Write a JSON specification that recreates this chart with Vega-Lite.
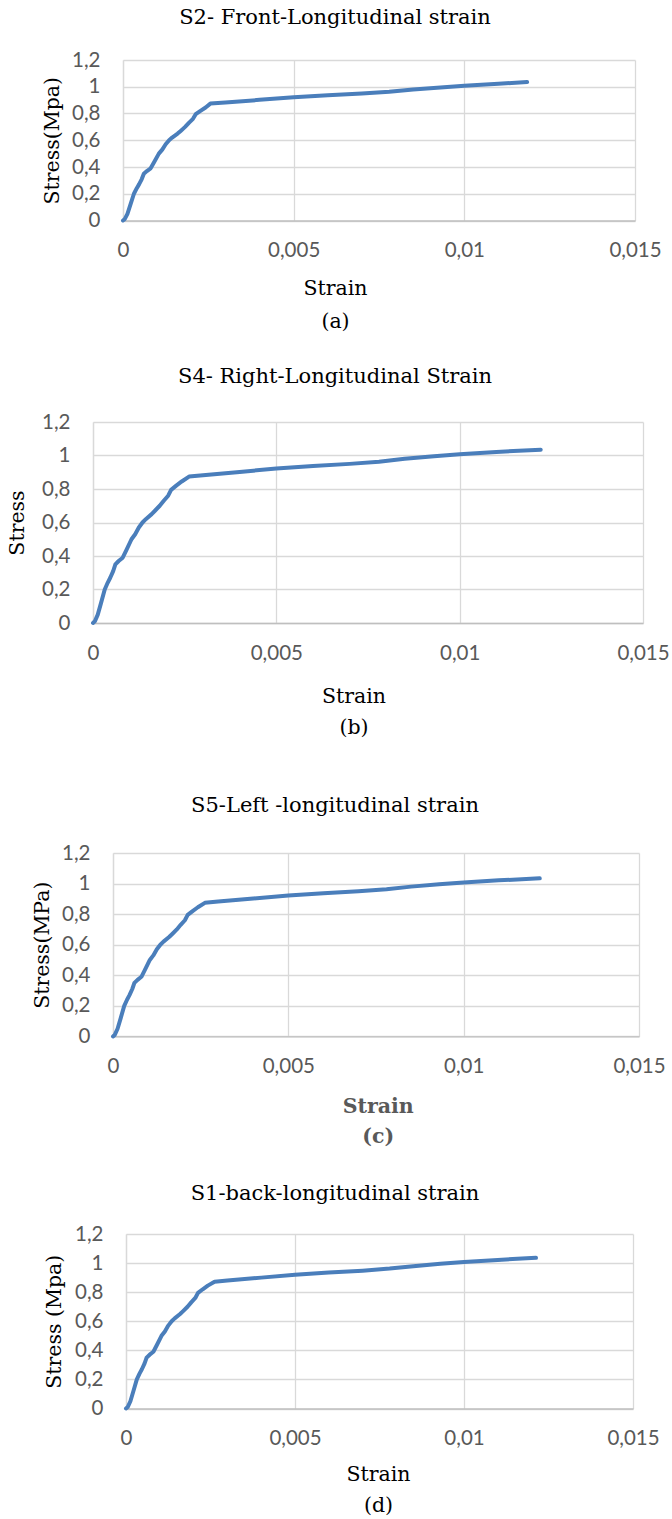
{
  "$schema": "https://vega.github.io/schema/vega-lite/v6.json",
  "padding": {"left": 7, "top": 7, "right": 0, "bottom": 0},
  "background": "white",
  "data": {"values": [
    {"panel": "a", "strain": 0, "stress": 0},
    {"panel": "a", "strain": 0.00005, "stress": 0.01},
    {"panel": "a", "strain": 0.00013, "stress": 0.05},
    {"panel": "a", "strain": 0.00022, "stress": 0.12},
    {"panel": "a", "strain": 0.00032, "stress": 0.2},
    {"panel": "a", "strain": 0.0004, "stress": 0.24},
    {"panel": "a", "strain": 0.00047, "stress": 0.27},
    {"panel": "a", "strain": 0.00055, "stress": 0.31},
    {"panel": "a", "strain": 0.00061, "stress": 0.35},
    {"panel": "a", "strain": 0.0007, "stress": 0.37},
    {"panel": "a", "strain": 0.00081, "stress": 0.39},
    {"panel": "a", "strain": 0.00091, "stress": 0.435},
    {"panel": "a", "strain": 0.00105, "stress": 0.5},
    {"panel": "a", "strain": 0.00115, "stress": 0.53},
    {"panel": "a", "strain": 0.00125, "stress": 0.57},
    {"panel": "a", "strain": 0.00135, "stress": 0.6},
    {"panel": "a", "strain": 0.00144, "stress": 0.62},
    {"panel": "a", "strain": 0.0016, "stress": 0.65},
    {"panel": "a", "strain": 0.00169, "stress": 0.67},
    {"panel": "a", "strain": 0.00182, "stress": 0.7},
    {"panel": "a", "strain": 0.00193, "stress": 0.73},
    {"panel": "a", "strain": 0.00205, "stress": 0.76},
    {"panel": "a", "strain": 0.00213, "stress": 0.795},
    {"panel": "a", "strain": 0.00227, "stress": 0.82},
    {"panel": "a", "strain": 0.00242, "stress": 0.845},
    {"panel": "a", "strain": 0.00256, "stress": 0.874},
    {"panel": "a", "strain": 0.003, "stress": 0.882},
    {"panel": "a", "strain": 0.004, "stress": 0.902},
    {"panel": "a", "strain": 0.005, "stress": 0.922},
    {"panel": "a", "strain": 0.006, "stress": 0.937},
    {"panel": "a", "strain": 0.007, "stress": 0.95},
    {"panel": "a", "strain": 0.0078, "stress": 0.963},
    {"panel": "a", "strain": 0.0085, "stress": 0.98},
    {"panel": "a", "strain": 0.0093, "stress": 0.995},
    {"panel": "a", "strain": 0.01, "stress": 1.008},
    {"panel": "a", "strain": 0.011, "stress": 1.022},
    {"panel": "a", "strain": 0.01184, "stress": 1.035},
    {"panel": "b", "strain": 0, "stress": 0},
    {"panel": "b", "strain": 0.00005, "stress": 0.01},
    {"panel": "b", "strain": 0.00013, "stress": 0.05},
    {"panel": "b", "strain": 0.00022, "stress": 0.12},
    {"panel": "b", "strain": 0.00032, "stress": 0.2},
    {"panel": "b", "strain": 0.0004, "stress": 0.24},
    {"panel": "b", "strain": 0.00047, "stress": 0.27},
    {"panel": "b", "strain": 0.00055, "stress": 0.31},
    {"panel": "b", "strain": 0.00061, "stress": 0.35},
    {"panel": "b", "strain": 0.0007, "stress": 0.37},
    {"panel": "b", "strain": 0.00081, "stress": 0.39},
    {"panel": "b", "strain": 0.00091, "stress": 0.435},
    {"panel": "b", "strain": 0.00105, "stress": 0.5},
    {"panel": "b", "strain": 0.00115, "stress": 0.53},
    {"panel": "b", "strain": 0.00125, "stress": 0.57},
    {"panel": "b", "strain": 0.00135, "stress": 0.6},
    {"panel": "b", "strain": 0.00144, "stress": 0.62},
    {"panel": "b", "strain": 0.0016, "stress": 0.65},
    {"panel": "b", "strain": 0.00169, "stress": 0.67},
    {"panel": "b", "strain": 0.00182, "stress": 0.7},
    {"panel": "b", "strain": 0.00193, "stress": 0.73},
    {"panel": "b", "strain": 0.00205, "stress": 0.76},
    {"panel": "b", "strain": 0.00213, "stress": 0.795},
    {"panel": "b", "strain": 0.00227, "stress": 0.82},
    {"panel": "b", "strain": 0.00242, "stress": 0.845},
    {"panel": "b", "strain": 0.00262, "stress": 0.874},
    {"panel": "b", "strain": 0.003, "stress": 0.882},
    {"panel": "b", "strain": 0.004, "stress": 0.902},
    {"panel": "b", "strain": 0.005, "stress": 0.922},
    {"panel": "b", "strain": 0.006, "stress": 0.937},
    {"panel": "b", "strain": 0.007, "stress": 0.95},
    {"panel": "b", "strain": 0.0078, "stress": 0.963},
    {"panel": "b", "strain": 0.0085, "stress": 0.98},
    {"panel": "b", "strain": 0.0093, "stress": 0.995},
    {"panel": "b", "strain": 0.01, "stress": 1.007},
    {"panel": "b", "strain": 0.011, "stress": 1.021},
    {"panel": "b", "strain": 0.01221, "stress": 1.035},
    {"panel": "c", "strain": 0, "stress": 0},
    {"panel": "c", "strain": 0.00005, "stress": 0.01},
    {"panel": "c", "strain": 0.00013, "stress": 0.05},
    {"panel": "c", "strain": 0.00022, "stress": 0.12},
    {"panel": "c", "strain": 0.00032, "stress": 0.2},
    {"panel": "c", "strain": 0.0004, "stress": 0.24},
    {"panel": "c", "strain": 0.00047, "stress": 0.27},
    {"panel": "c", "strain": 0.00055, "stress": 0.31},
    {"panel": "c", "strain": 0.00061, "stress": 0.35},
    {"panel": "c", "strain": 0.0007, "stress": 0.37},
    {"panel": "c", "strain": 0.00081, "stress": 0.39},
    {"panel": "c", "strain": 0.00091, "stress": 0.435},
    {"panel": "c", "strain": 0.00105, "stress": 0.5},
    {"panel": "c", "strain": 0.00115, "stress": 0.53},
    {"panel": "c", "strain": 0.00125, "stress": 0.57},
    {"panel": "c", "strain": 0.00135, "stress": 0.6},
    {"panel": "c", "strain": 0.00144, "stress": 0.62},
    {"panel": "c", "strain": 0.0016, "stress": 0.65},
    {"panel": "c", "strain": 0.00169, "stress": 0.67},
    {"panel": "c", "strain": 0.00182, "stress": 0.7},
    {"panel": "c", "strain": 0.00193, "stress": 0.73},
    {"panel": "c", "strain": 0.00205, "stress": 0.76},
    {"panel": "c", "strain": 0.00213, "stress": 0.795},
    {"panel": "c", "strain": 0.00227, "stress": 0.82},
    {"panel": "c", "strain": 0.00242, "stress": 0.845},
    {"panel": "c", "strain": 0.00262, "stress": 0.874},
    {"panel": "c", "strain": 0.003, "stress": 0.882},
    {"panel": "c", "strain": 0.004, "stress": 0.902},
    {"panel": "c", "strain": 0.005, "stress": 0.922},
    {"panel": "c", "strain": 0.006, "stress": 0.937},
    {"panel": "c", "strain": 0.007, "stress": 0.95},
    {"panel": "c", "strain": 0.0078, "stress": 0.963},
    {"panel": "c", "strain": 0.0085, "stress": 0.98},
    {"panel": "c", "strain": 0.0093, "stress": 0.995},
    {"panel": "c", "strain": 0.01, "stress": 1.007},
    {"panel": "c", "strain": 0.011, "stress": 1.021},
    {"panel": "c", "strain": 0.01217, "stress": 1.034},
    {"panel": "d", "strain": 0, "stress": 0},
    {"panel": "d", "strain": 0.00005, "stress": 0.01},
    {"panel": "d", "strain": 0.00013, "stress": 0.05},
    {"panel": "d", "strain": 0.00022, "stress": 0.12},
    {"panel": "d", "strain": 0.00032, "stress": 0.2},
    {"panel": "d", "strain": 0.0004, "stress": 0.24},
    {"panel": "d", "strain": 0.00047, "stress": 0.27},
    {"panel": "d", "strain": 0.00055, "stress": 0.31},
    {"panel": "d", "strain": 0.00061, "stress": 0.35},
    {"panel": "d", "strain": 0.0007, "stress": 0.37},
    {"panel": "d", "strain": 0.00081, "stress": 0.39},
    {"panel": "d", "strain": 0.00091, "stress": 0.435},
    {"panel": "d", "strain": 0.00105, "stress": 0.5},
    {"panel": "d", "strain": 0.00115, "stress": 0.53},
    {"panel": "d", "strain": 0.00125, "stress": 0.57},
    {"panel": "d", "strain": 0.00135, "stress": 0.6},
    {"panel": "d", "strain": 0.00144, "stress": 0.62},
    {"panel": "d", "strain": 0.0016, "stress": 0.65},
    {"panel": "d", "strain": 0.00169, "stress": 0.67},
    {"panel": "d", "strain": 0.00182, "stress": 0.7},
    {"panel": "d", "strain": 0.00193, "stress": 0.73},
    {"panel": "d", "strain": 0.00205, "stress": 0.76},
    {"panel": "d", "strain": 0.00213, "stress": 0.795},
    {"panel": "d", "strain": 0.00227, "stress": 0.82},
    {"panel": "d", "strain": 0.00242, "stress": 0.845},
    {"panel": "d", "strain": 0.00262, "stress": 0.872},
    {"panel": "d", "strain": 0.003, "stress": 0.88},
    {"panel": "d", "strain": 0.004, "stress": 0.9},
    {"panel": "d", "strain": 0.005, "stress": 0.92},
    {"panel": "d", "strain": 0.006, "stress": 0.935},
    {"panel": "d", "strain": 0.007, "stress": 0.948},
    {"panel": "d", "strain": 0.0078, "stress": 0.962},
    {"panel": "d", "strain": 0.0085, "stress": 0.979},
    {"panel": "d", "strain": 0.0093, "stress": 0.995},
    {"panel": "d", "strain": 0.01, "stress": 1.007},
    {"panel": "d", "strain": 0.011, "stress": 1.022},
    {"panel": "d", "strain": 0.01213, "stress": 1.036}
  ]},
  "spacing": 57,
  "vconcat": [
    {
      "spacing": 34,
      "vconcat": [
        {
          "width": 542, "height": 160.5,
          "title": {"text": "S2- Front-Longitudinal strain", "dx": -29, "offset": 22},
          "transform": [{"filter": "datum.panel === 'a'"}],
          "mark": {"type": "line", "color": "#4a7ebb", "strokeWidth": 4, "strokeCap": "round", "strokeJoin": "round"},
          "encoding": {
            "x": {"field": "strain", "type": "quantitative",
              "scale": {"domain": [0, 0.015], "range": [30, 542], "nice": false, "zero": false},
              "axis": {"values": [0, 0.005, 0.01, 0.015], "title": ["Strain", "(a)"], "titleX": 242, "titlePadding": 17.5, "titleLineHeight": 33}},
            "y": {"field": "stress", "type": "quantitative",
              "scale": {"domain": [0, 1.2], "nice": false},
              "axis": {"values": [0, 0.2, 0.4, 0.6, 0.8, 1, 1.2], "title": "Stress(Mpa)", "offset": -30, "titlePadding": 9}}
          }
        },
        {
          "width": 550, "height": 201,
          "title": {"text": "S4- Right-Longitudinal Strain", "dx": -33, "offset": 25},
          "transform": [{"filter": "datum.panel === 'b'"}],
          "mark": {"type": "line", "color": "#4a7ebb", "strokeWidth": 4, "strokeCap": "round", "strokeJoin": "round"},
          "encoding": {
            "x": {"field": "strain", "type": "quantitative",
              "scale": {"domain": [0, 0.015], "range": [0, 550], "nice": false, "zero": false},
              "axis": {"values": [0, 0.005, 0.01, 0.015], "title": ["Strain", "(b)"], "titleX": 260.5, "titlePadding": 23, "titleLineHeight": 31}},
            "y": {"field": "stress", "type": "quantitative",
              "scale": {"domain": [0, 1.2], "nice": false},
              "axis": {"values": [0, 0.2, 0.4, 0.6, 0.8, 1, 1.2], "title": "Stress", "offset": 0, "titlePadding": 14}}
          }
        }
      ]
    },
    {
      "spacing": 35,
      "vconcat": [
        {
          "width": 546, "height": 183.4,
          "title": {"text": "S5-Left -longitudinal strain", "dx": -31, "offset": 27},
          "transform": [{"filter": "datum.panel === 'c'"}],
          "mark": {"type": "line", "color": "#4a7ebb", "strokeWidth": 4, "strokeCap": "round", "strokeJoin": "round"},
          "encoding": {
            "x": {"field": "strain", "type": "quantitative",
              "scale": {"domain": [0, 0.015], "range": [20, 546], "nice": false, "zero": false},
              "axis": {"values": [0, 0.005, 0.01, 0.015], "title": ["Strain", "(c)"], "titleX": 284.7, "titlePadding": 19.5, "titleLineHeight": 30.5, "titleFontWeight": "bold", "titleColor": "#595959"}},
            "y": {"field": "stress", "type": "quantitative",
              "scale": {"domain": [0, 1.2], "nice": false},
              "axis": {"values": [0, 0.2, 0.4, 0.6, 0.8, 1, 1.2], "title": "Stress(MPa)", "offset": -20, "titlePadding": 9}}
          }
        },
        {
          "width": 540, "height": 174.5,
          "title": {"text": "S1-back-longitudinal strain", "dx": -28, "offset": 20},
          "transform": [{"filter": "datum.panel === 'd'"}],
          "mark": {"type": "line", "color": "#4a7ebb", "strokeWidth": 4, "strokeCap": "round", "strokeJoin": "round"},
          "encoding": {
            "x": {"field": "strain", "type": "quantitative",
              "scale": {"domain": [0, 0.015], "range": [33, 540], "nice": false, "zero": false},
              "axis": {"values": [0, 0.005, 0.01, 0.015], "title": ["Strain", "(d)"], "titleX": 285, "titlePadding": 15.5, "titleLineHeight": 31}},
            "y": {"field": "stress", "type": "quantitative",
              "scale": {"domain": [0, 1.2], "nice": false},
              "axis": {"values": [0, 0.2, 0.4, 0.6, 0.8, 1, 1.2], "title": "Stress (Mpa)", "offset": -33, "titlePadding": 10.5}}
          }
        }
      ]
    }
  ],
  "config": {
    "view": {"stroke": null},
    "title": {"font": "DejaVu Serif", "fontSize": 21, "fontWeight": "normal", "color": "#000000", "anchor": "middle", "frame": "group", "baseline": "alphabetic"},
    "axis": {
      "labelFont": "Lato", "labelFontSize": 20.5, "labelColor": "#595959", "labelPadding": 20,
      "labelFlush": false, "labelOverlap": false,
      "labelExpr": "replace(toString(datum.value), '.', ',')",
      "titleFont": "DejaVu Serif", "titleFontSize": 20.5, "titleFontWeight": "normal", "titleColor": "#000000",
      "ticks": false, "grid": true, "gridColor": "#d9d9d9", "gridWidth": 1.3,
      "domainColor": "#d9d9d9", "domainWidth": 1.3
    },
    "axisY": {"labelPadding": 23},
    "axisX": {"domainColor": "#bfbfbf"}
  }
}
